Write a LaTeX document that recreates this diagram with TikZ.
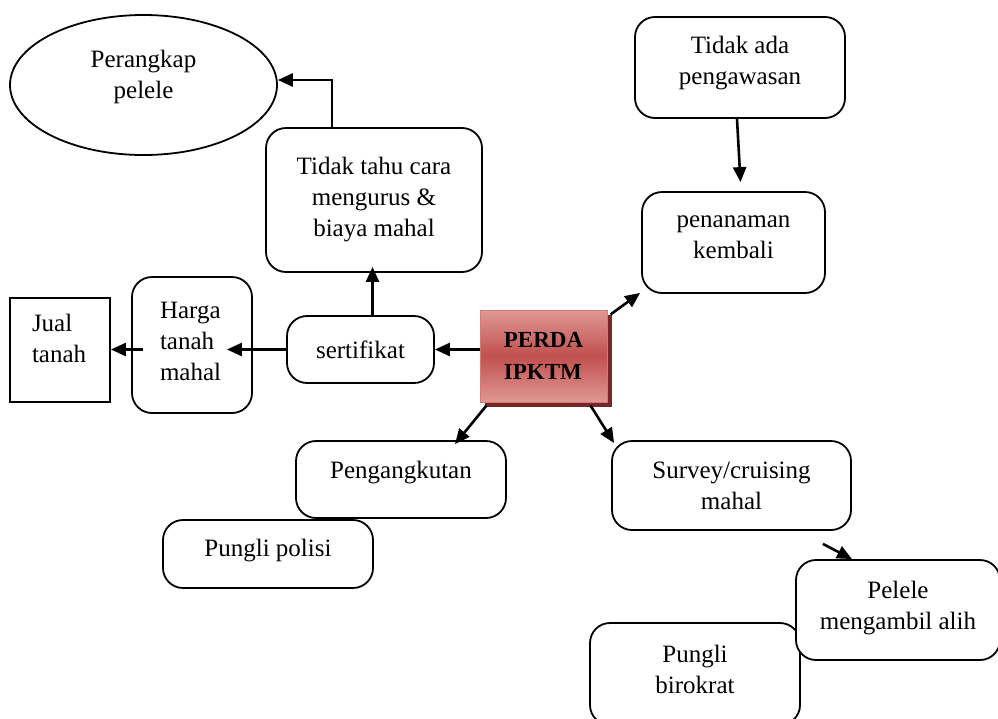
\documentclass[tikz,border=0pt]{standalone}
\usepackage{fontspec}
\setmainfont{Liberation Serif}
\usetikzlibrary{shapes.geometric,arrows.meta,shadows}
\definecolor{perdaLight}{RGB}{224,152,150}
\definecolor{perdaMid}{RGB}{192,80,77}
\definecolor{perdaEdge}{RGB}{214,120,118}
\definecolor{perdaShadow}{RGB}{118,40,38}
\newcommand{\dn}[1]{\rule[-#1]{0pt}{#1}}
\begin{document}
\begin{tikzpicture}[x=1pt,y=-1pt,
  every node/.style={font=\fontsize{25}{31}\selectfont, align=center, inner sep=0pt},
  rbox/.style={draw, line width=1.8pt, rounded corners=20pt, fill=white},
  sbox/.style={draw, line width=1.8pt, fill=white},
  arr/.style={line width=2.6pt, -{Triangle[length=15pt,width=13pt]}},
]
\useasboundingbox (0,0) rectangle (998,718);

\node[draw, ellipse, line width=1.8pt, minimum width=267pt, minimum height=140pt] (trap) at (143.5,85) {Perangkap\\pelele\dn{21pt}};
\node[rbox, minimum width=216pt, minimum height=144pt] (tahu) at (374,200) {Tidak tahu cara\\mengurus \&\\biaya mahal};
\node[rbox, minimum width=210pt, minimum height=101pt] (awas) at (740,67.5) {Tidak ada\\pengawasan\dn{15pt}};
\node[rbox, minimum width=183pt, minimum height=101pt] (tanam) at (733.5,242.5) {penanaman\\kembali\dn{10pt}};

\node[draw=perdaEdge, line width=1pt, top color=perdaLight, bottom color=perdaLight, middle color=perdaMid,
      drop shadow={shadow xshift=5pt, shadow yshift=-5pt, fill=perdaShadow, opacity=1},
      minimum width=127pt, minimum height=92pt, align=left,
      font=\fontsize{23}{32}\selectfont\bfseries] (perda) at (543.5,356) {PERDA\\IPKTM};

\node[rbox, minimum width=147pt, minimum height=67pt] (sert) at (360.5,349.5) {sertifikat};
\node[rbox, minimum width=120pt, minimum height=136pt, text width=64pt, align=left] (harga) at (192,345) {Harga\\tanah\\mahal\dn{8pt}};
\node[sbox, minimum width=100pt, minimum height=104pt, text width=56pt, align=left] (jual) at (60,350) {Jual\\tanah\dn{24pt}};

\node[rbox, minimum width=210pt, minimum height=68pt] (polisi) at (268,554) {Pungli polisi\dn{13pt}};
\node[rbox, minimum width=210pt, minimum height=77pt] (peng) at (401,479.5) {Pengangkutan\dn{19pt}};
\node[rbox, minimum width=239pt, minimum height=89pt] (surv) at (731.5,485.5) {Survey/cruising\\mahal};
\node[rbox, minimum width=210pt, minimum height=102pt] (biro) at (695,674) {Pungli\\birokrat\dn{10pt}};
\node[rbox, minimum width=204pt, minimum height=100pt] (pel) at (898,610) {Pelele\\mengambil alih\dn{10pt}};

% connectors
\draw[arr] ([xshift=-42pt]tahu.north) |- ([yshift=5pt]trap.east);
\draw[arr] ([xshift=-3pt]awas.south) -- ([xshift=7pt,yshift=9pt]tanam.north);
\draw[arr] ([shift={(3,5)}]perda.north east) -- ([shift={(-1,-1)}]tanam.south west);
\draw[arr] (perda.west |- sert.east) -- (sert.east);
\draw[arr] ([xshift=12pt]sert.north) -- ([xshift=12pt,yshift=6pt]sert.north |- tahu.south);
\draw[arr] (sert.west) -- ([xshift=-26pt]harga.east |- sert.west);
\draw[arr] ([xshift=12pt]harga.west |- sert.west) -- (jual.east |- sert.west);
\draw[arr] ([shift={(7,3)}]perda.south west) -- ([shift={(54,4)}]peng.north);
\draw[arr] ([shift={(-17,3)}]perda.south east) -- ([shift={(3,3)}]surv.north west);
\draw[arr] ([shift={(-29,13)}]surv.south east) -- ([xshift=-46pt]pel.north);
\end{tikzpicture}
\end{document}
